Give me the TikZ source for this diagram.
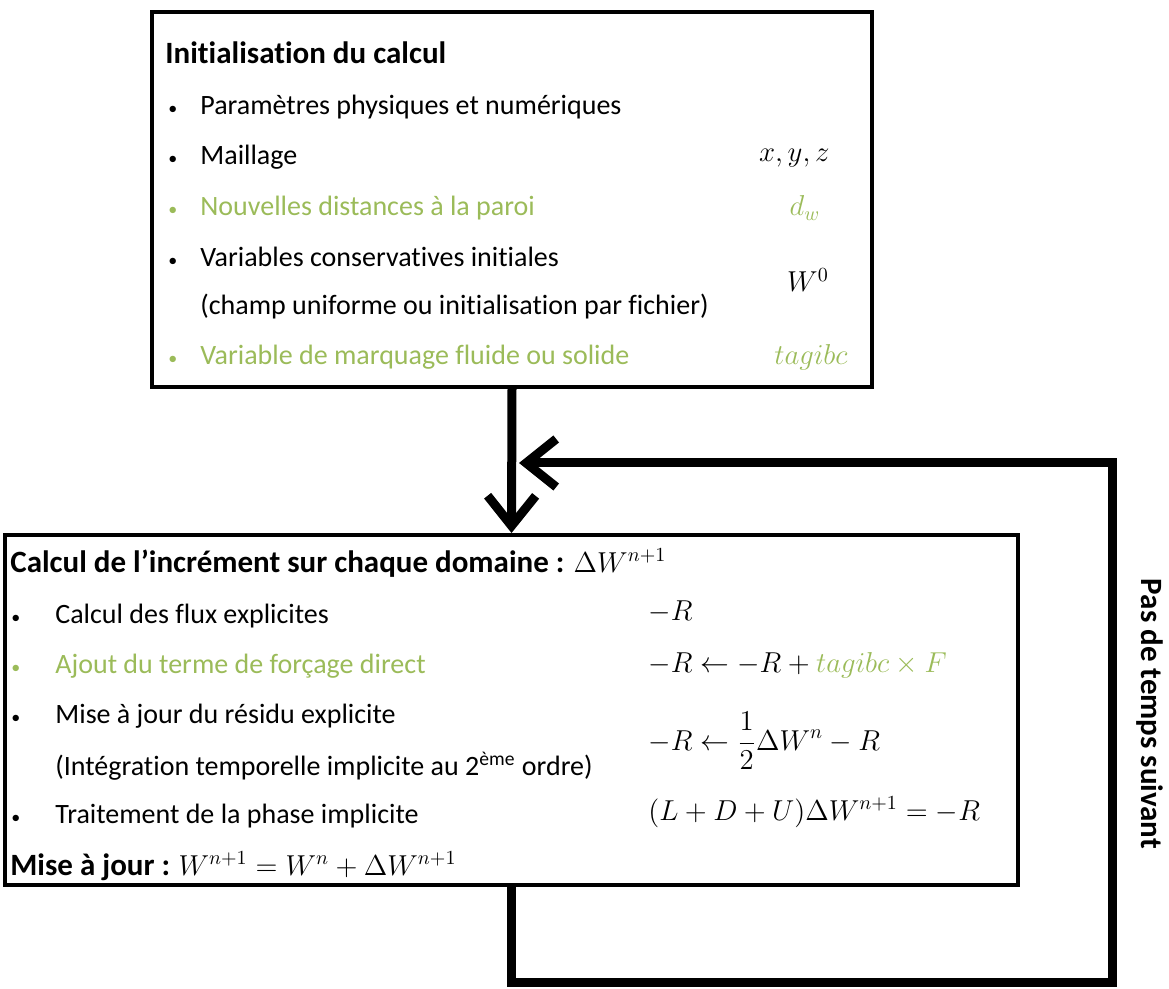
\documentclass[tikz,border=0pt]{standalone}
\usepackage{fontspec}
\setmainfont{Carlito}[Ligatures=NoCommon]
\usetikzlibrary{arrows.meta}
\definecolor{Olive}{RGB}{155,187,89}
\newcommand{\itm}[1]{\makebox[#1][l]{\small\textbullet}}

\begin{document}
\begin{tikzpicture}[x=0.5pt, y=-0.5pt,
    box/.style={draw, line width=2pt, inner sep=0pt},
    txt/.style={anchor=west, inner sep=0pt, font=\fontsize{14}{16}\selectfont},
    ttl/.style={txt, font=\fontsize{15.5}{18}\selectfont\bfseries},
    mth/.style={inner sep=0pt, font=\fontsize{14}{16}\selectfont},
    grn/.style={text=Olive},
    flow/.style={line width=4.5pt, -{Straight Barb[length=15pt,width=24pt]}}
  ]
    \useasboundingbox (0,0) rectangle (1169,989);
    % init block
    \node[box, minimum width=360pt, minimum height=187.5pt] (init) at (512,199.5) {};
    \node[ttl] (t1) at (165,53) {Initialisation du calcul};
    \node[txt] (i1) at (168,107) {\itm{16pt}Paramètres physiques et numériques};
    \node[txt] (i2) at (168,157) {\itm{16pt}Maillage};
    \node[txt, grn] (i3) at (168,208) {\itm{16pt}Nouvelles distances à la paroi};
    \node[txt] (i4) at (168,257) {\itm{16pt}Variables conservatives initiales};
    \node[txt] (i4b) at (200,307) {(champ uniforme ou initialisation par fichier)};
    \node[txt, grn] (i5) at (168,357) {\itm{16pt}Variable de marquage fluide ou solide};
    \node[mth, anchor=east] (m1) at (830,158) {$x,y,z$};
    \node[mth, grn] (m2) at (805,208) {$d_w$};
    \node[mth] (m3) at (808,280) {$W^0$};
    \node[mth, grn, anchor=east] (m4) at (848,357) {$tagibc$};
    % increment block
    \node[box, minimum width=506.5pt, minimum height=175pt] (incr) at (511.5,710) {};
    \node[ttl] (t2) at (10,563) {Calcul de l’incrément sur chaque domaine : \mdseries\fontsize{14}{16}\selectfont$\Delta W^{n+1}$};
    \node[txt] (j1) at (11,616) {\itm{22pt}Calcul des flux explicites};
    \node[txt, grn] (j2) at (11,666) {\itm{22pt}Ajout du terme de forçage direct};
    \node[txt] (j3) at (11,716) {\itm{22pt}Mise à jour du résidu explicite};
    \node[txt] (j3b) at (55,766) {(Intégration temporelle implicite au 2\textsuperscript{ème} ordre)};
    \node[txt] (j4) at (11,816) {\itm{22pt}Traitement de la phase implicite};
    \node[txt] (j5) at (10,866) {{\fontsize{15.5}{18}\selectfont\bfseries Mise à jour :} $W^{n+1}=W^{n}+\Delta W^{n+1}$};
    \node[mth, anchor=west] (n1) at (648,612) {$-R$};
    \node[mth, anchor=west] (n2) at (648,665) {$-R\leftarrow -R+\textcolor{Olive}{tagibc\times F}$};
    \node[mth, anchor=west] (n3) at (648,741) {$-R\leftarrow \displaystyle\frac{1}{2}\Delta W^{n}-R$};
    \node[mth, anchor=west] (n4) at (648,812) {$(L+D+U)\Delta W^{n+1}=-R$};
    % loop
    \node[mth, font=\fontsize{15.5}{18}\selectfont\bfseries, rotate=-90] (pas) at (1150,714) {Pas de temps suivant};
    \coordinate (corner) at (1112,982);
    \coordinate (back) at (519,463);
    \draw[flow] (init.south) -- (incr.north);
    \draw[flow] (incr.south) |- (corner) |- (back);
\end{tikzpicture}
\end{document}
